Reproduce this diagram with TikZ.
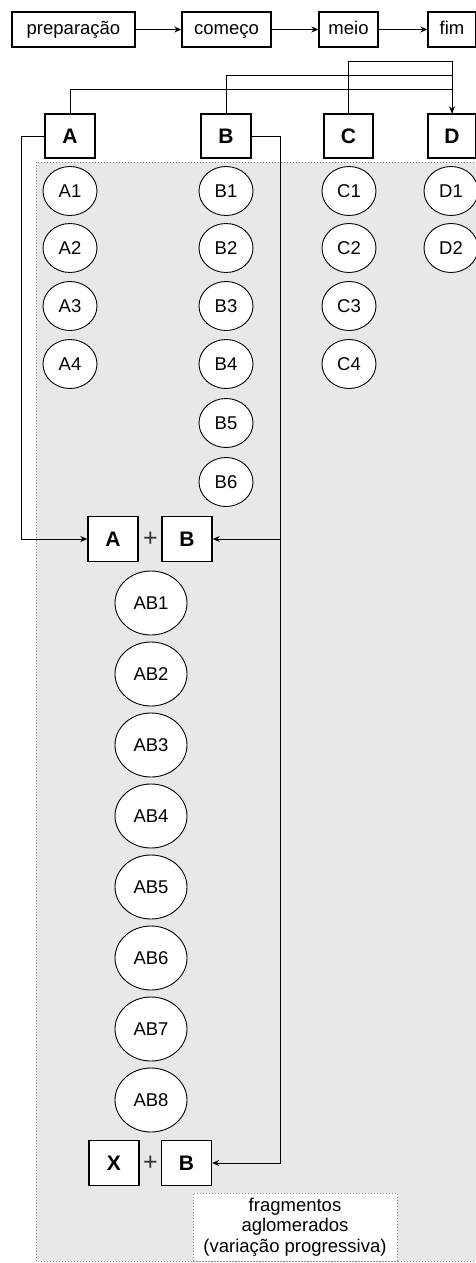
\documentclass[tikz,border=0pt]{standalone}
\usepackage{fontspec}
\setmainfont{Liberation Sans}
\usetikzlibrary{arrows.meta,shapes.geometric}
\definecolor{regiongray}{HTML}{E8E8E8}
\definecolor{dotgray}{HTML}{8A8A8A}
\begin{document}
\begin{tikzpicture}[x=1pt,y=-1pt,
  stagebox/.style={draw,line width=1.4pt,fill=white,minimum height=35pt,inner sep=0pt,
    text height=13.5pt,text depth=3.5pt,font=\fontsize{18.5}{20}\selectfont},
  letterbox/.style={draw,line width=1.4pt,fill=white,minimum width=50pt,minimum height=44pt,inner sep=0pt,
    font=\fontsize{21}{22}\selectfont\bfseries},
  frag/.style={draw,line width=0.9pt,fill=white,ellipse,minimum width=54pt,minimum height=49pt,inner sep=0pt,
    font=\fontsize{18.5}{20}\selectfont},
  bigfrag/.style={draw,line width=0.9pt,fill=white,ellipse,minimum width=72pt,minimum height=64pt,inner sep=0pt,
    font=\fontsize{18.5}{20}\selectfont},
  plus/.style={inner sep=0pt,text=black!80,font=\fontsize{25}{26}\selectfont},
  conn/.style={line width=1pt},
  arr/.style={conn,-{Stealth[length=7pt,width=6pt]}},
  note/.style={draw=dotgray,dotted,line width=1pt,fill=white,minimum width=204pt,minimum height=68pt,
    inner sep=0pt,align=center,font=\fontsize{18.5}{20.5}\selectfont}
]
\useasboundingbox (0,0) rectangle (476,1263);
\fill[white] (0,0) rectangle (476,1263);
% region
\filldraw[fill=regiongray,draw=dotgray,dotted,line width=1pt] (36,162) rectangle (479,1261);

% top stages
\node[stagebox,minimum width=123pt] (prep) at (73.5,29.5) {preparação};
\node[stagebox,minimum width=89pt] (comeco) at (226.5,29.5) {começo};
\node[stagebox,minimum width=59pt] (meio) at (348.5,29.5) {meio};
\node[stagebox,minimum width=48pt] (fim) at (452,29.5) {fim};
\draw[arr] (prep) -- (comeco);
\draw[arr] (comeco) -- (meio);
\draw[arr] (meio) -- (fim);

% letter boxes
\node[letterbox] (A) at (70,136) {A};
\node[letterbox] (B) at (226,136) {B};
\node[letterbox,minimum width=49pt] (C) at (348.5,136) {C};
\node[letterbox,minimum width=48pt] (D) at (452,136) {D};

\draw[conn] (C.north) -- ++(0,-52) -| (D.north);
\draw[conn] (B.north) -- ++(0,-38) -| (D.north);
\draw[arr] (A.north) -- ++(0,-24) -| (D.north);

% fragments
\foreach \i/\y in {1/191,2/248,3/306,4/364} {
  \node[frag] (A\i) at (70,\y) {A\i};
}
\foreach \i/\y in {1/191,2/248,3/306,4/364,5/423,6/482} {
  \node[frag] (B\i) at (226,\y) {B\i};
}
\foreach \i/\y in {1/191,2/248,3/306,4/364} {
  \node[frag] (C\i) at (349,\y) {C\i};
}
\foreach \i/\y in {1/191,2/248} {
  \node[frag] (D\i) at (451,\y) {D\i};
}

% A + B
\node[letterbox,minimum height=45pt] (ABa) at (113,539) {A};
\node[plus] (plus1) at (150.5,539) {+};
\node[letterbox,minimum height=45pt] (ABb) at (187,539) {B};

\foreach \i in {1,...,8} {
  \node[bigfrag] (AB\i) at (151,{603+71*(\i-1)}) {AB\i};
}

% X + B
\node[letterbox,minimum height=45pt] (XBx) at (114,1163) {X};
\node[plus] (plus2) at (150.5,1163) {+};
\node[letterbox,minimum height=45pt] (XBb) at (186.5,1163) {B};

\draw[arr] (A.west) -- ++(-23,0) |- (ABa.west);
\draw[arr] (B.east) -- ++(29,0) |- (ABb.east);
\draw[arr] (B.east) -- ++(29,0) |- (XBb.east);

% note
\node[note] (nota) at (295,1227) {fragmentos\\aglomerados\\(variação progressiva)};
\end{tikzpicture}
\end{document}
